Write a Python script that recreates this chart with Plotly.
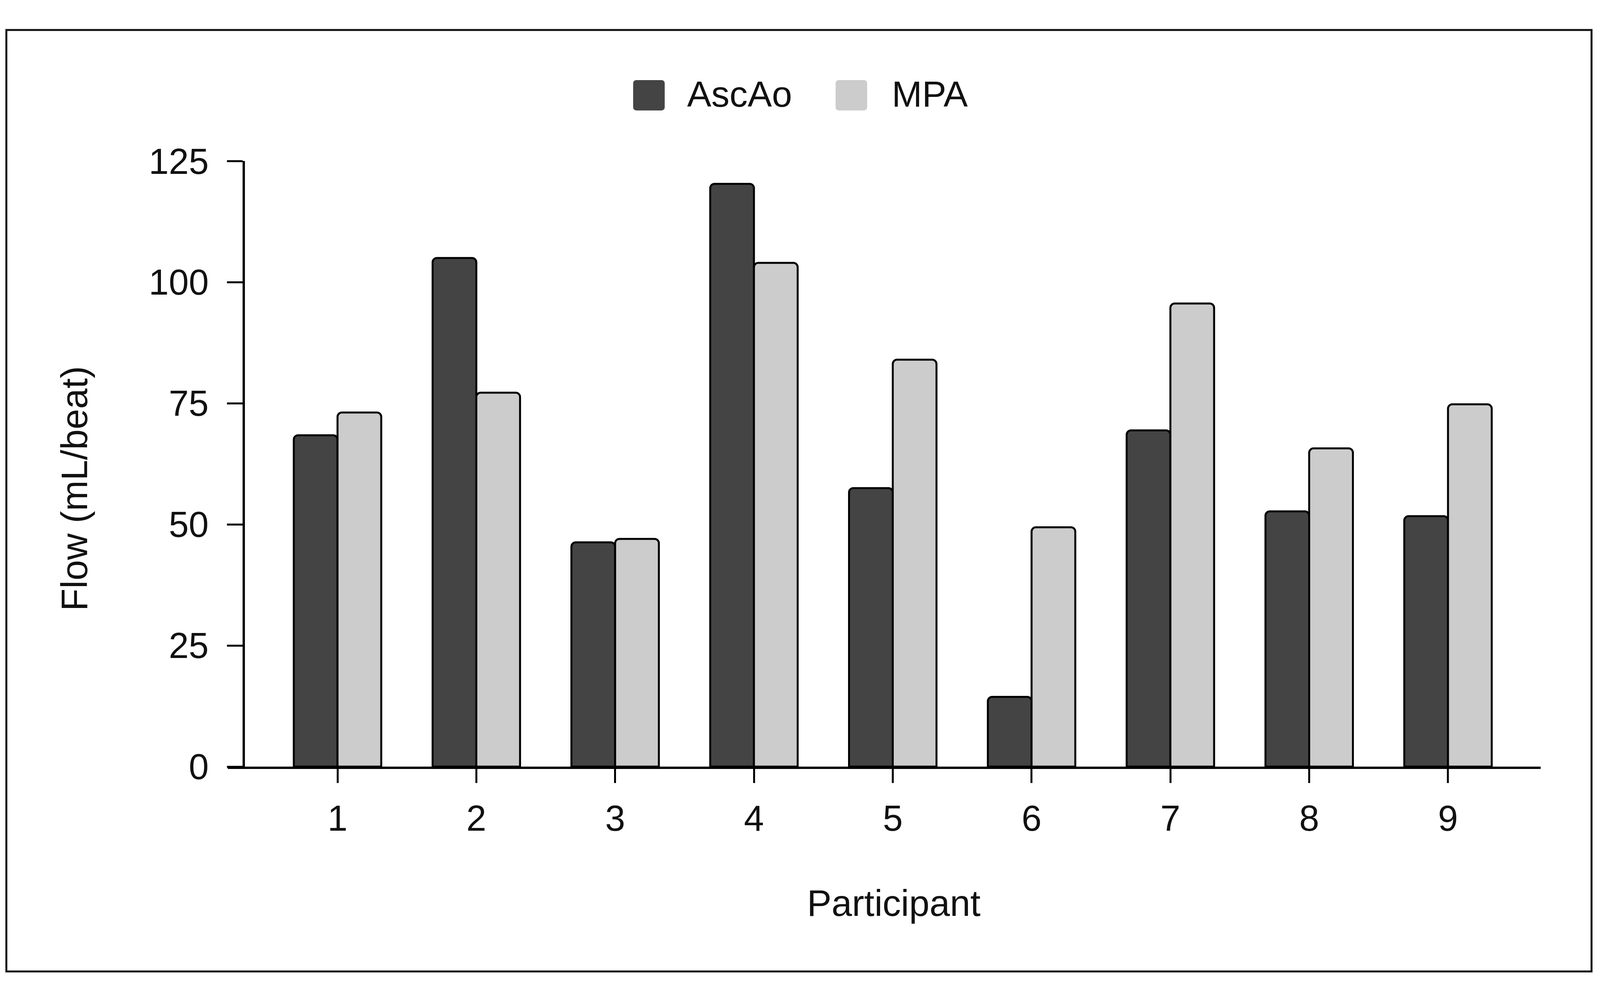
import plotly.graph_objects as go

participants = [1, 2, 3, 4, 5, 6, 7, 8, 9]
tick_labels = ["1", "2", "3", "4", "5", "6", "7", "8", "9"]
ascao = [68.4, 105.0, 46.3, 120.3, 57.5, 14.4, 69.4, 52.7, 51.7]
mpa = [73.1, 77.2, 47.0, 104.0, 84.0, 49.4, 95.6, 65.7, 74.8]
y_ticks = [0, 25, 50, 75, 100, 125]
series_names = ["AscAo", "MPA"]
series_colors = ["#444444", "#cccccc"]

# page geometry: viewport 4096 wide, body margin 8px
FW, FH = 4088, 2559
SX = 4096 / 4157


def fx(X):
    return (X * SX - 8) / FW


def fy(Y):
    return 1 - (Y - 8) / FH


FONT = "Liberation Sans, Arial, sans-serif"
TXT = "#111111"

fig = go.Figure()
for name, vals, col in zip(series_names, [ascao, mpa], series_colors):
    fig.add_trace(go.Bar(
        x=participants, y=vals, name=name,
        marker=dict(color=col, line=dict(color="#000000", width=5), cornerradius=11),
        showlegend=False,
    ))

fig.update_layout(
    width=FW, height=FH,
    margin=dict(l=0, r=0, t=0, b=0),
    paper_bgcolor="white", plot_bgcolor="white",
    barmode="group", bargap=0.37, bargroupgap=0,
    font=dict(family=FONT, color=TXT, size=92),
    xaxis=dict(
        domain=[fx(592), fx(4003)],
        range=[0.21, 9.668],
        tickmode="array", tickvals=participants, ticktext=tick_labels,
        showline=True, linecolor="#000000", linewidth=6,
        ticks="outside", ticklen=36, tickwidth=5, tickcolor="#000000",
        showgrid=False, zeroline=False,
        tickfont=dict(size=92, family=FONT, color=TXT),
        ticklabelstandoff=12,
    ),
    yaxis=dict(
        domain=[fy(1990), fy(376)],
        range=[0, 125],
        anchor="free", position=fx(633),
        tickvals=y_ticks,
        showline=True, linecolor="#000000", linewidth=6,
        ticks="outside", ticklen=40, tickwidth=5, tickcolor="#000000",
        showgrid=False, zeroline=False,
        tickfont=dict(size=92, family=FONT, color=TXT),
        ticklabelstandoff=28,
    ),
)

# outer frame
fig.add_shape(type="rect", xref="paper", yref="paper",
              x0=fx(16.5), x1=fx(4135), y0=fy(2536), y1=fy(26.5),
              line=dict(color="#111111", width=5), fillcolor="rgba(0,0,0,0)")

# axis titles
fig.add_annotation(text="Participant", xref="paper", yref="paper",
                   x=fx(2322), y=fy(2354), showarrow=False,
                   xanchor="center", yanchor="middle",
                   font=dict(size=94, family=FONT, color=TXT))
fig.add_annotation(text="Flow (mL/beat)", xref="paper", yref="paper",
                   x=fx(193), y=fy(1249), showarrow=False, textangle=-90,
                   xanchor="center", yanchor="middle",
                   font=dict(size=94, family=FONT, color=TXT))


def rounded_rect(x0, y0, x1, y1, r):
    # x0<x1 in ref px, y0<y1 in ref px (top, bottom)
    rx = r * SX / FW
    ry = r / FH
    a, b = fx(x0), fx(x1)
    top, bot = fy(y0), fy(y1)
    return (f"M{a+rx},{top} L{b-rx},{top} Q{b},{top} {b},{top-ry} "
            f"L{b},{bot+ry} Q{b},{bot} {b-rx},{bot} L{a+rx},{bot} "
            f"Q{a},{bot} {a},{bot+ry} L{a},{top-ry} Q{a},{top} {a+rx},{top} Z")


# custom legend (large swatches)
legend_items = [
    (series_names[0], series_colors[0], 1645, 1783),
    (series_names[1], series_colors[1], 2171, 2315),
]
for name, col, sx, tx in legend_items:
    fig.add_shape(type="path", xref="paper", yref="paper",
                  path=rounded_rect(sx, 160, sx + 82, 241, 9),
                  line=dict(width=0), fillcolor=col)
    fig.add_annotation(text=name, xref="paper", yref="paper",
                       x=fx(tx), y=fy(198), showarrow=False,
                       xanchor="left", yanchor="middle",
                       font=dict(size=93, family=FONT, color=TXT))

fig.write_html("out.html")
